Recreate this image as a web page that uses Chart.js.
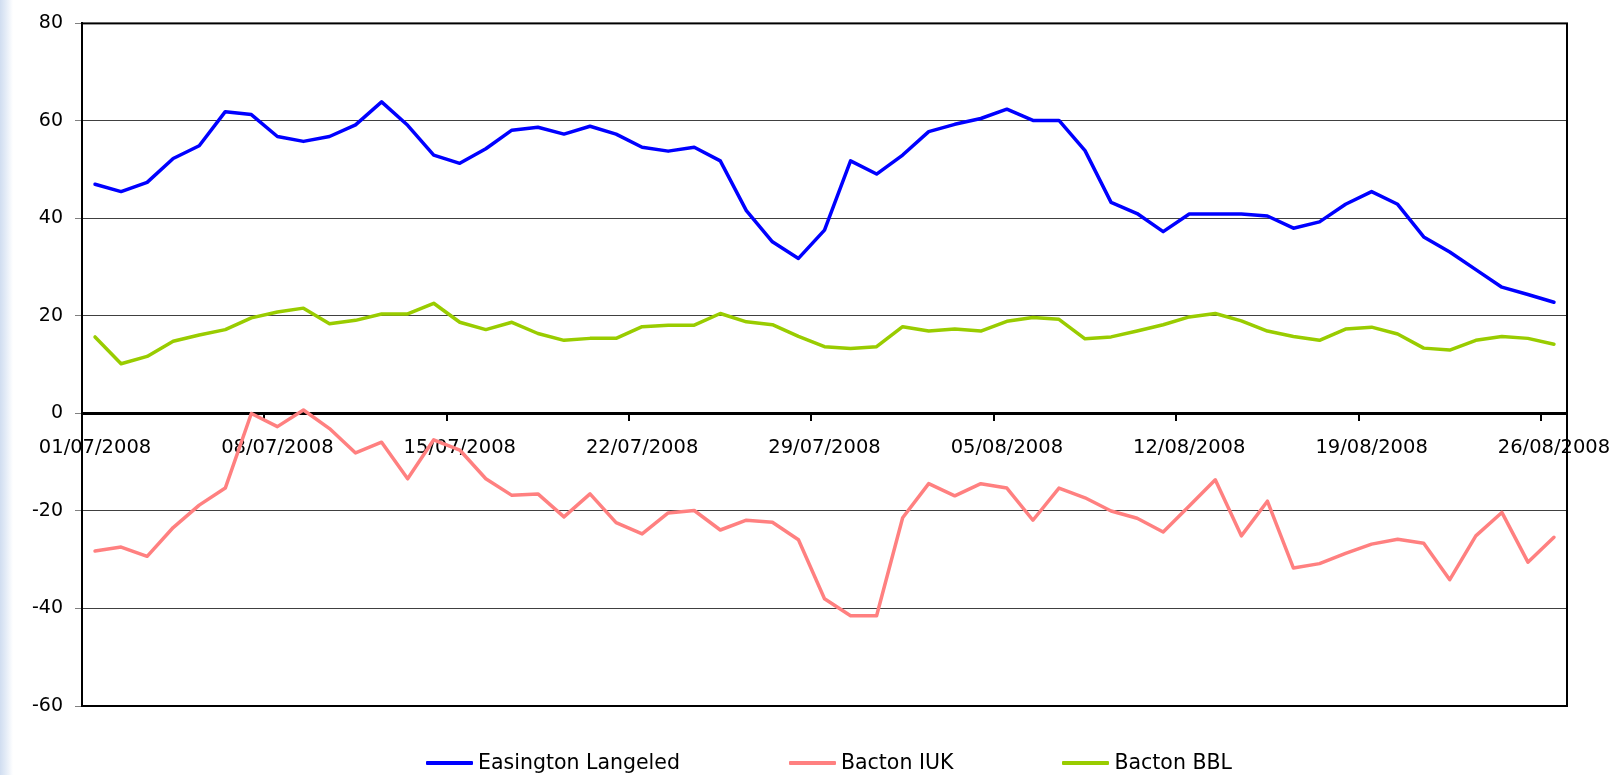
<!DOCTYPE html>
<html>
<head>
<meta charset="utf-8">
<script src="https://cdn.jsdelivr.net/npm/chart.js@4.4.1/dist/chart.umd.min.js"></script>
<style>
  html, body { margin: 0; padding: 0; }
  body {
    width: 1619px; height: 775px; position: relative; overflow: hidden;
    background: linear-gradient(to right, #d0ddf0 0px, #e4ecf7 6px, #ffffff 13px);
  }
  #chart { position: absolute; left: 0; top: 0; }
  #legend {
    position: absolute; left: 426px; top: 750px;
    display: flex; gap: 109px;
    font: 20.5px "DejaVu Sans", sans-serif; line-height: 24px; color: #000;
  }
  .item { display: flex; align-items: center; white-space: nowrap; }
  .swatch { width: 47px; height: 3.5px; margin-right: 5px; position: relative; top: 1px; border-radius: 1px; }
</style>
</head>
<body>
<canvas id="chart" width="1619" height="775"></canvas>
<div id="legend"></div>
<script>
const dates = [
  '01/07/2008', '02/07/2008', '03/07/2008', '04/07/2008', '05/07/2008', '06/07/2008', '07/07/2008',
  '08/07/2008', '09/07/2008', '10/07/2008', '11/07/2008', '12/07/2008', '13/07/2008', '14/07/2008',
  '15/07/2008', '16/07/2008', '17/07/2008', '18/07/2008', '19/07/2008', '20/07/2008', '21/07/2008',
  '22/07/2008', '23/07/2008', '24/07/2008', '25/07/2008', '26/07/2008', '27/07/2008', '28/07/2008',
  '29/07/2008', '30/07/2008', '31/07/2008', '01/08/2008', '02/08/2008', '03/08/2008', '04/08/2008',
  '05/08/2008', '06/08/2008', '07/08/2008', '08/08/2008', '09/08/2008', '10/08/2008', '11/08/2008',
  '12/08/2008', '13/08/2008', '14/08/2008', '15/08/2008', '16/08/2008', '17/08/2008', '18/08/2008',
  '19/08/2008', '20/08/2008', '21/08/2008', '22/08/2008', '23/08/2008', '24/08/2008', '25/08/2008',
  '26/08/2008'
];

const easingtonLangeled = [
  47.0, 45.5, 47.4, 52.3, 54.9, 61.9, 61.3, 56.8, 55.8, 56.8,
  59.2, 63.9, 59.1, 53.0, 51.3, 54.3, 58.1, 58.7, 57.3, 58.9,
  57.3, 54.6, 53.8, 54.6, 51.8, 41.6, 35.2, 31.8, 37.6, 51.8,
  49.1, 53.0, 57.8, 59.3, 60.5, 62.4, 60.1, 60.1, 53.9, 43.3,
  41.0, 37.3, 40.9, 40.9, 40.9, 40.5, 38.0, 39.3, 42.9, 45.5,
  42.9, 36.2, 33.1, 29.5, 25.9, 24.4, 22.8
];

const bactonIUK = [
  -28.2, -27.4, -29.3, -23.4, -18.8, -15.3, 0.0, -2.7, 0.7, -3.1,
  -8.1, -5.9, -13.4, -5.4, -7.5, -13.4, -16.8, -16.5, -21.2, -16.5,
  -22.4, -24.7, -20.4, -19.9, -23.9, -21.9, -22.3, -25.9, -38.0, -41.5,
  -41.5, -21.4, -14.4, -16.9, -14.4, -15.3, -21.9, -15.3, -17.3, -20.0,
  -21.5, -24.3, -19.0, -13.6, -25.1, -18.0, -31.7, -30.8, -28.7, -26.8,
  -25.8, -26.6, -34.1, -25.1, -20.3, -30.5, -25.4
];

const bactonBBL = [
  15.7, 10.2, 11.7, 14.8, 16.1, 17.2, 19.6, 20.8, 21.6, 18.4,
  19.1, 20.4, 20.4, 22.6, 18.7, 17.2, 18.7, 16.4, 15.0, 15.4,
  15.4, 17.8, 18.1, 18.1, 20.5, 18.8, 18.2, 15.8, 13.7, 13.3,
  13.7, 17.8, 16.9, 17.3, 16.9, 18.9, 19.7, 19.3, 15.3, 15.7,
  16.9, 18.2, 19.8, 20.5, 19.0, 16.9, 15.8, 15.0, 17.3, 17.7,
  16.3, 13.4, 13.0, 15.0, 15.8, 15.4, 14.2
];

const yTicks = [-60, -40, -20, 0, 20, 40, 60, 80];
const labelEvery = 7;

// box round the plot area, like the Excel chart frame
const frame = {
  id: 'frame',
  beforeDatasetsDraw(chart) {
    const { ctx, chartArea: a } = chart;
    ctx.save();
    ctx.strokeStyle = '#000';
    ctx.lineWidth = 2;
    ctx.strokeRect(a.left, a.top, a.right - a.left, a.bottom - a.top);
    ctx.restore();
  }
};

const chart = new Chart(document.getElementById('chart'), {
  type: 'line',
  data: {
    labels: dates,
    datasets: [
      { label: 'Easington Langeled', data: easingtonLangeled, borderColor: '#0000ff', backgroundColor: '#0000ff' },
      { label: 'Bacton IUK', data: bactonIUK, borderColor: '#ff8080', backgroundColor: '#ff8080' },
      { label: 'Bacton BBL', data: bactonBBL, borderColor: '#99cc00', backgroundColor: '#99cc00' }
    ]
  },
  options: {
    responsive: false,
    animation: false,
    layout: {
      padding: { left: 0, top: 20, right: 52, bottom: 69 }
    },
    elements: {
      point: { radius: 0 },
      line: { tension: 0, borderWidth: 3.5, borderJoinStyle: 'round', borderCapStyle: 'round' }
    },
    plugins: {
      legend: { display: false },
      tooltip: { enabled: false }
    },
    scales: {
      x: {
        position: { y: 0 },
        offset: true,
        // the last date label may hang past the frame, as in the original
        afterFit: function (s) { s.paddingLeft = 0; s.paddingRight = 0; },
        grid: {
          offset: true,
          drawOnChartArea: false,
          tickLength: 6,
          lineWidth: 2,
          color: function (c) {
            return c.index % labelEvery === 0 ? '#000' : 'rgba(0,0,0,0)';
          }
        },
        border: { display: true, color: '#000', width: 3 },
        ticks: {
          autoSkip: false,
          maxRotation: 0,
          padding: 17,
          color: '#000',
          font: { family: 'DejaVu Sans', size: 19.5 },
          callback: function (v, i) {
            return i % labelEvery === 0 ? dates[i] : '';
          }
        }
      },
      y: {
        min: yTicks[0],
        max: yTicks[yTicks.length - 1],
        afterFit: function (s) { s.width = 82; },
        afterBuildTicks: function (s) { s.ticks = yTicks.map(v => ({ value: v })); },
        border: { display: true, color: '#000', width: 2 },
        grid: {
          color: function (c) {
            return c.tick && c.tick.value === 0 ? 'rgba(0,0,0,0)' : '#404040';
          },
          tickColor: '#808080',
          tickLength: 7,
          lineWidth: 1
        },
        ticks: {
          padding: 12,
          color: '#000',
          font: { family: 'DejaVu Sans', size: 19 }
        }
      }
    }
  },
  plugins: [frame]
});

const legend = document.getElementById('legend');
chart.data.datasets.forEach(function (ds) {
  const item = document.createElement('div');
  item.className = 'item';
  const sw = document.createElement('span');
  sw.className = 'swatch';
  sw.style.background = ds.borderColor;
  const txt = document.createElement('span');
  txt.textContent = ds.label;
  item.appendChild(sw);
  item.appendChild(txt);
  legend.appendChild(item);
});
</script>
</body>
</html>
